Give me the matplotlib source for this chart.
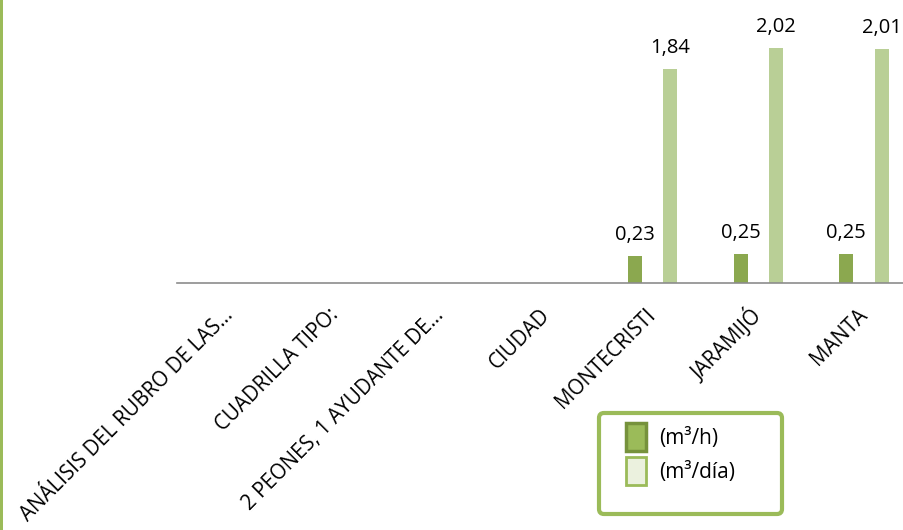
import matplotlib
matplotlib.use("Agg")
from matplotlib import pyplot as plt
from matplotlib.patches import Patch, FancyBboxPatch, Rectangle
from matplotlib.transforms import IdentityTransform
import numpy as np

plt.rcParams['font.family'] = ['Open Sans', 'DejaVu Sans']

categorias = ['ANÁLISIS DEL RUBRO DE LAS…', 'CUADRILLA TIPO:',
              '2 PEONES, 1 AYUDANTE DE…', 'CIUDAD', 'MONTECRISTI',
              'JARAMIJÓ', 'MANTA']
m3_h = [np.nan, np.nan, np.nan, np.nan, 0.23, 0.25, 0.25]
m3_dia = [np.nan, np.nan, np.nan, np.nan, 1.84, 2.02, 2.01]
leyenda = ['(m³/h)', '(m³/día)']

fig = plt.figure(figsize=(9.04, 5.30), dpi=100)
ax = fig.add_axes([0.1957, 0.466, 0.8185, 0.534])

x = np.arange(len(categorias))
ancho = 0.132
b1 = ax.bar(x - 0.167, m3_h, ancho, color='#8BA84F')
b2 = ax.bar(x + 0.167, m3_dia, ancho, color='#B9CF96')

def fmt(v):
    return '' if np.isnan(v) else ('%.2f' % v).replace('.', ',')

ax.bar_label(b1, labels=[fmt(v) for v in m3_h], padding=8, fontsize=14.5)
ax.bar_label(b2, labels=[fmt(v) for v in m3_dia], padding=8, fontsize=14.5)

ax.set_xlim(-0.5, 6.5)
ax.set_ylim(0, 2.433)
ax.set_yticks([])
ax.set_xticks(x)
ax.set_xticklabels(categorias, rotation=45, ha='right', rotation_mode='anchor',
                   va='center', fontsize=14.8)
ax.tick_params(axis='x', length=0, pad=21)
for s in ['top', 'left', 'right']:
    ax.spines[s].set_visible(False)
ax.spines['bottom'].set_color('#8C8C8C')
ax.spines['bottom'].set_linewidth(1.2)
ax.patch.set_visible(False)

# linea verde a la izquierda
fig.add_artist(Rectangle((0, 0), 3 / 904, 1, transform=fig.transFigure,
                         facecolor='#9BBB59', edgecolor='none'))

# marco de la leyenda
marco = FancyBboxPatch((599, 530 - 514), 183, 101,
                       boxstyle='round,pad=0,rounding_size=5',
                       transform=IdentityTransform(), facecolor='white',
                       edgecolor='#9BBB59', linewidth=3)
fig.add_artist(marco)

manejadores = [Patch(facecolor='#9BBB59', edgecolor='#76923C', linewidth=2.5),
               Patch(facecolor='#EBF1DE', edgecolor='#9BBB59', linewidth=2)]
leg = fig.legend(manejadores, leyenda, loc='upper left',
                 bbox_to_anchor=(616 / 904, 1 - 413 / 530),
                 bbox_transform=fig.transFigure, frameon=False, fontsize=15,
                 borderpad=0, handlelength=0.95, handleheight=1.65,
                 labelspacing=0.3, handletextpad=0.6)
leg.set_zorder(5)

fig.savefig('out.png', dpi=100)
